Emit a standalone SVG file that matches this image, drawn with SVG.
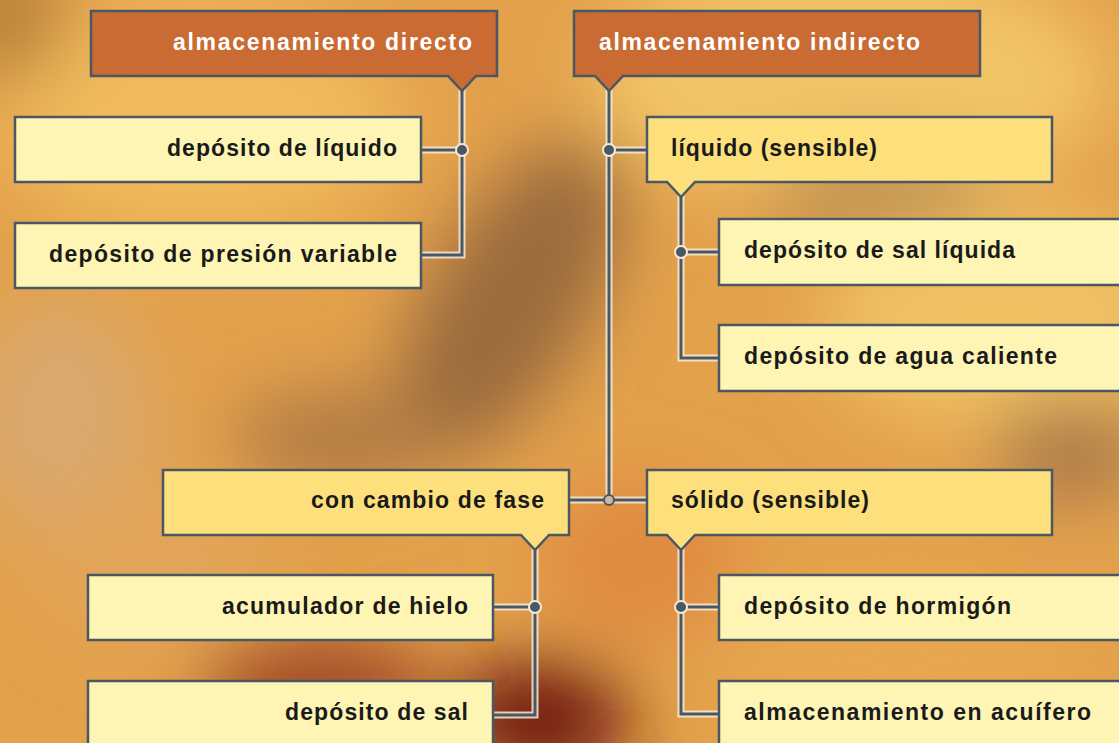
<svg xmlns="http://www.w3.org/2000/svg" width="1119" height="743" viewBox="0 0 1119 743">
<defs>
<filter id="blur" x="-50%" y="-50%" width="200%" height="200%"><feGaussianBlur stdDeviation="36"/></filter>
<style>
.hdr{fill:#c96b32;stroke:#4a5863;stroke-width:2.5}
.lt{fill:#fef4b4;stroke:#4a5863;stroke-width:2.5}
.md{fill:#fde07c;stroke:#4a5863;stroke-width:2.5}
.t{font-family:"Liberation Sans",Arial,sans-serif;font-weight:bold;font-size:23px;fill:#1a1a1a}
.th{font-family:"Liberation Sans",Arial,sans-serif;font-weight:bold;font-size:23px;fill:#ffffff}
.halo{fill:none;stroke:#f6ead6;stroke-width:7;stroke-opacity:0.85}
.ln{fill:none;stroke:#4a5863;stroke-width:3}
.dot{fill:#4a5863;stroke:#f6ead6;stroke-width:2}
</style>
</defs>
<g id="background">
<rect width="1119" height="743" fill="#e3a14c"/>
<g filter="url(#blur)">
<ellipse cx="850" cy="80" rx="260" ry="120" fill="#f2c468"/>
<ellipse cx="1000" cy="320" rx="180" ry="110" fill="#f0c064"/>
<ellipse cx="200" cy="120" rx="200" ry="120" fill="#f0b95c"/>
<ellipse cx="10" cy="20" rx="50" ry="60" fill="#b07a34"/>
<ellipse cx="60" cy="420" rx="90" ry="120" fill="#d9a86e"/>
<ellipse cx="510" cy="300" rx="80" ry="180" fill="#9a6a3e" transform="rotate(30 510 300)"/>
<ellipse cx="340" cy="440" rx="110" ry="50" fill="#b07a44"/>
<ellipse cx="880" cy="190" rx="120" ry="40" fill="#b88a50"/>
<ellipse cx="1070" cy="450" rx="80" ry="50" fill="#a87848"/>
<ellipse cx="640" cy="560" rx="100" ry="80" fill="#e08a40"/>
<ellipse cx="540" cy="720" rx="90" ry="60" fill="#6e1510"/>
<ellipse cx="320" cy="690" rx="120" ry="55" fill="#a04a28"/>
<ellipse cx="900" cy="660" rx="180" ry="80" fill="#e8a650"/>
<ellipse cx="150" cy="560" rx="120" ry="80" fill="#e2a458"/>
</g>
</g>
<g id="connectors">
<path class="halo" d="M462 88V255H421M421 150H462M609 88V500M609 150H647M569 500H647M681 195V358H719M681 252H719M535 548V715H493M493 607H535M681 548V714H719M681 607H719"/>
<path class="ln" d="M462 88V255H421M421 150H462M609 88V500M609 150H647M569 500H647M681 195V358H719M681 252H719M535 548V715H493M493 607H535M681 548V714H719M681 607H719"/>
<circle class="dot" cx="462" cy="150" r="6"/>
<circle class="dot" cx="609" cy="150" r="6"/>
<circle class="dot" cx="681" cy="252" r="6"/>
<circle class="dot" cx="535" cy="607" r="6"/>
<circle class="dot" cx="681" cy="607" r="6"/>
<circle cx="609" cy="500" r="5" fill="#c8b8a4" stroke="#4a5863" stroke-width="2"/>
</g>
<g id="n-directo">
<path class="hdr" d="M91 11H497V76H476L462 91L448 76H91Z"/>
<text class="th" x="173" y="50" textLength="299" lengthAdjust="spacing">almacenamiento directo</text>
</g>
<g id="n-indirecto">
<path class="hdr" d="M574 11H980V76H623L609 91L595 76H574Z"/>
<text class="th" x="599" y="50" textLength="321" lengthAdjust="spacing">almacenamiento indirecto</text>
</g>
<g id="n-dep-liquido">
<rect class="lt" x="15" y="117" width="406" height="65"/>
<text class="t" x="167" y="156" textLength="230" lengthAdjust="spacing">depósito de líquido</text>
</g>
<g id="n-dep-presion">
<rect class="lt" x="15" y="223" width="406" height="65"/>
<text class="t" x="49" y="262" textLength="348" lengthAdjust="spacing">depósito de presión variable</text>
</g>
<g id="n-liquido-sensible">
<path class="md" d="M647 117H1052V182H695L681 197L667 182H647Z"/>
<text class="t" x="671" y="156" textLength="206" lengthAdjust="spacing">líquido (sensible)</text>
</g>
<g id="n-sal-liquida">
<rect class="lt" x="719" y="219" width="410" height="66"/>
<text class="t" x="744" y="258" textLength="271" lengthAdjust="spacing">depósito de sal líquida</text>
</g>
<g id="n-agua-caliente">
<rect class="lt" x="719" y="325" width="410" height="66"/>
<text class="t" x="744" y="364" textLength="313" lengthAdjust="spacing">depósito de agua caliente</text>
</g>
<g id="n-cambio-fase">
<path class="md" d="M163 470H569V535H549L535 550L521 535H163Z"/>
<text class="t" x="311" y="508" textLength="233" lengthAdjust="spacing">con cambio de fase</text>
</g>
<g id="n-solido-sensible">
<path class="md" d="M647 470H1052V535H695L681 550L667 535H647Z"/>
<text class="t" x="671" y="508" textLength="198" lengthAdjust="spacing">sólido (sensible)</text>
</g>
<g id="n-hielo">
<rect class="lt" x="88" y="575" width="405" height="65"/>
<text class="t" x="222" y="614" textLength="246" lengthAdjust="spacing">acumulador de hielo</text>
</g>
<g id="n-dep-sal">
<rect class="lt" x="88" y="681" width="405" height="70"/>
<text class="t" x="285" y="720" textLength="183" lengthAdjust="spacing">depósito de sal</text>
</g>
<g id="n-hormigon">
<rect class="lt" x="719" y="575" width="410" height="65"/>
<text class="t" x="744" y="614" textLength="267" lengthAdjust="spacing">depósito de hormigón</text>
</g>
<g id="n-acuifero">
<rect class="lt" x="719" y="681" width="410" height="70"/>
<text class="t" x="744" y="720" textLength="347" lengthAdjust="spacing">almacenamiento en acuífero</text>
</g>
</svg>
